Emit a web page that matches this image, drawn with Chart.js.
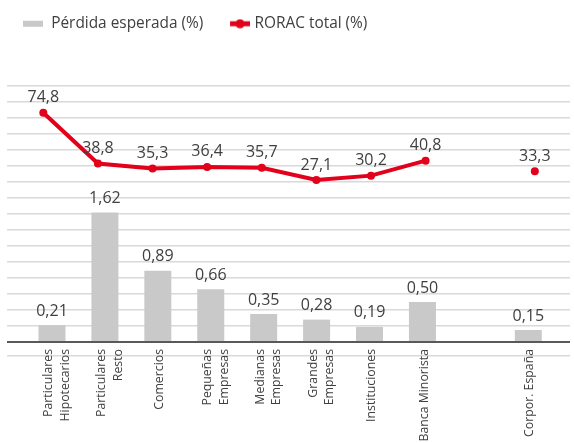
<!DOCTYPE html>
<html>
<head>
<meta charset="utf-8">
<script src="https://cdn.jsdelivr.net/npm/chart.js@4/dist/chart.umd.min.js"></script>
<style>
  html, body { margin: 0; padding: 0; background: #fff; }
  #wrap { width: 574px; height: 443px; position: relative; }
</style>
</head>
<body>
<div id="wrap"><canvas id="chart"></canvas></div>
<script>
// segment labels (empty slot keeps the gap before the corporate total)
const categories = [
  ['Particulares', 'Hipotecarios'],
  ['Particulares', 'Resto'],
  'Comercios',
  ['Pequeñas', 'Empresas'],
  ['Medianas', 'Empresas'],
  ['Grandes', 'Empresas'],
  'Instituciones',
  'Banca Minorista',
  '',
  'Corpor. España'
];
const perdidaEsperada = [0.21, 1.62, 0.89, 0.66, 0.35, 0.28, 0.19, 0.50, null, 0.15];
const roracTotal = [74.8, 38.8, 35.3, 36.4, 35.7, 27.1, 30.2, 40.8, null, 33.3];

const GREY = '#c9c9c9';
const RED = '#e2001a';
const TEXT = '#404040';
const FONT = "'Open Sans', 'Liberation Sans', sans-serif";
const TOP_PAD = -6;

// small canvases used as legend markers
function legendIcon(w, draw) {
  const c = document.createElement('canvas');
  c.width = w;
  c.height = 10;
  draw(c.getContext('2d'));
  return c;
}
const greyIcon = legendIcon(20, g => {
  g.fillStyle = GREY;
  g.fillRect(0, 2, 20, 6);
});
const redIcon = legendIcon(28, g => {
  g.fillStyle = RED;
  g.fillRect(8, 2.5, 20, 5);
  g.beginPath();
  g.arc(18, 5, 4.5, 0, Math.PI * 2);
  g.fill();
});

const toXY = arr => arr.map((v, i) => ({ x: i, y: v }));
const comma = (v, d) => v.toFixed(d).replace('.', ',');

// value labels over bars and line points
const valueLabels = {
  id: 'valueLabels',
  afterDatasetsDraw(chart) {
    const ctx = chart.ctx;
    ctx.save();
    ctx.font = '16px ' + FONT;
    ctx.fillStyle = TEXT;
    ctx.textAlign = 'center';
    ctx.textBaseline = 'middle';
    chart.data.datasets.forEach((ds, di) => {
      const meta = chart.getDatasetMeta(di);
      meta.data.forEach((el, i) => {
        const v = ds.data[i].y;
        if (v === null) return;
        const isBar = meta.type === 'bar';
        ctx.fillText(comma(v, isBar ? 2 : 1), el.x, el.y - (isBar ? 14 : 15));
      });
    });
    ctx.restore();
  }
};

new Chart(document.getElementById('chart'), {
  data: {
    datasets: [
      {
        type: 'bar',
        label: 'Pérdida esperada (%)',
        data: toXY(perdidaEsperada),
        backgroundColor: GREY,
        grouped: false,
        maxBarThickness: 27,
        xAxisID: 'x',
        yAxisID: 'y',
        order: 1
      },
      {
        type: 'line',
        label: 'RORAC total (%)',
        data: toXY(roracTotal),
        borderColor: RED,
        backgroundColor: RED,
        borderWidth: 4,
        pointRadius: 4,
        pointBackgroundColor: RED,
        pointBorderWidth: 0,
        spanGaps: false,
        xAxisID: 'xl',
        yAxisID: 'y1',
        order: 0
      }
    ]
  },
  options: {
    responsive: true,
    maintainAspectRatio: false,
    animation: false,
    layout: { padding: { top: TOP_PAD, left: 0, right: 0, bottom: 0 } },
    plugins: {
      tooltip: { enabled: false },
      legend: {
        position: 'top',
        align: 'start',
        labels: {
          usePointStyle: true,
          pointStyleWidth: 21.5,
          padding: 22,
          color: TEXT,
          font: { family: FONT, size: 15.4 },
          sort: (a, b) => a.datasetIndex - b.datasetIndex,
          generateLabels(chart) {
            const items = Chart.defaults.plugins.legend.labels.generateLabels(chart);
            items.forEach(it => {
              it.pointStyle = it.datasetIndex === 0 ? greyIcon : redIcon;
            });
            return items;
          }
        }
      }
    },
    scales: {
      x: {
        type: 'linear',
        position: 'bottom',
        offset: false,
        min: -0.85,
        max: 9.788,
        grid: { display: false, drawTicks: false },
        border: { display: false },
        afterBuildTicks(scale) {
          // rotated lines stack rightwards, so two-line labels start a bit left
          scale.ticks = categories.map((c, i) => ({
            value: i + (Array.isArray(c) ? -0.065 : 0.03)
          }));
        },
        afterFit(scale) { scale.height = 94; },
        ticks: {
          autoSkip: false,
          minRotation: 90,
          maxRotation: 90,
          padding: 0,
          color: TEXT,
          font: { family: FONT, size: 12.3, lineHeight: 1.36 },
          callback: (value, index) => categories[index]
        }
      },
      xl: {
        type: 'linear',
        position: 'top',
        offset: false,
        min: -0.665,
        max: 9.644,
        grid: { display: false, drawTicks: false },
        border: { display: false },
        ticks: { display: false },
        afterFit(scale) {
          scale.height = Math.max(0, 86 - TOP_PAD - scale.chart.legend.height);
        }
      },
      y: {
        position: 'left',
        min: -0.0875,
        max: 3.2,
        border: { display: false },
        grid: {
          drawTicks: false,
          color: c => c.tick.value === 0 ? '#595959' : '#d9d9d9',
          lineWidth: c => c.tick.value === 0 ? 2 : 1.5
        },
        ticks: { display: false },
        afterBuildTicks(scale) {
          // gridlines every 0.2, plus one light line under the axis
          const t = [{ value: -0.175 }];
          for (let k = 0; k <= 16; k++) t.push({ value: Math.round(k * 2) / 10 });
          scale.ticks = t;
        },
        afterFit(scale) { scale.width = 7; }
      },
      y1: {
        display: false,
        min: -92.67,
        max: 93.72
      }
    }
  },
  plugins: [valueLabels]
});
</script>
</body>
</html>
